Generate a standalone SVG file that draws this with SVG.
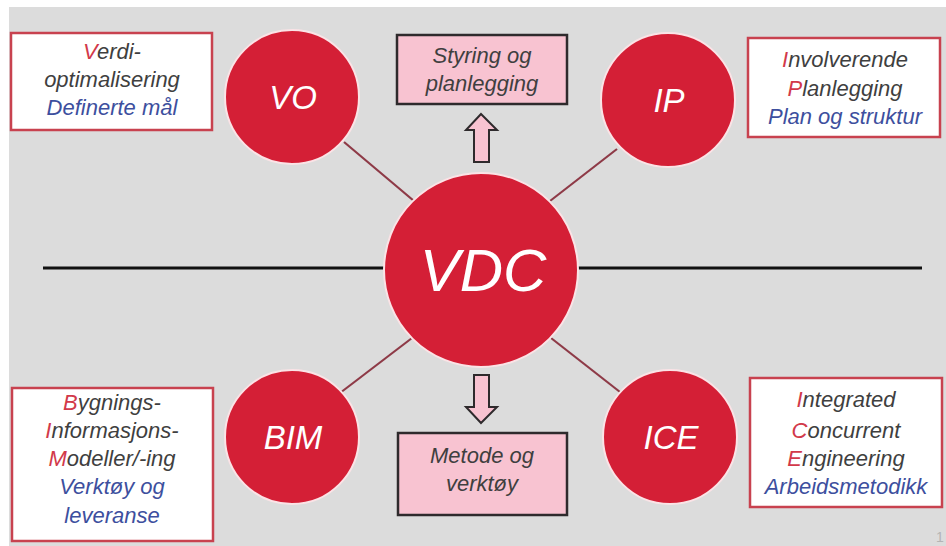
<svg xmlns="http://www.w3.org/2000/svg" width="946" height="546" viewBox="0 0 946 546">
  <defs>
    <style>
      .circle { fill: #d41f36; stroke: #fbe3e6; stroke-width: 2; }
      .ctext { font-family: "Liberation Sans", Arial, sans-serif; font-style: italic; fill: #ffffff; text-anchor: middle; }
      .infobox { fill: #ffffff; stroke: #c8424f; stroke-width: 2.5; }
      .pinkbox { fill: #f8c3d1; stroke: #2e2a2c; stroke-width: 2.5; }
      .btext { font-family: "Liberation Sans", Arial, sans-serif; font-style: italic; font-size: 22px; fill: #3f3f3f; text-anchor: middle; }
      .red { fill: #d2394a; }
      .blue { fill: #3d4f9e; }
      .link { stroke: #8e3a47; stroke-width: 2.2; fill: none; }
      .axis { stroke: #111111; stroke-width: 3; fill: none; }
      .arrow { fill: #f8c3d1; stroke: #2e2a2c; stroke-width: 2; stroke-linejoin: miter; }
    </style>
  </defs>

  <!-- canvas -->
  <rect x="0" y="0" width="946" height="546" fill="#ffffff"/>
  <rect x="9" y="7" width="937" height="539" fill="#dcdcdc"/>

  <!-- connectors -->
  <g id="connectors">
    <line class="axis" x1="43" y1="268" x2="385" y2="268"/>
    <line class="axis" x1="578" y1="268" x2="922" y2="268"/>
    <line class="link" x1="344" y1="142" x2="414" y2="201"/>
    <line class="link" x1="617" y1="149" x2="550" y2="201"/>
    <line class="link" x1="412" y1="338" x2="340" y2="393"/>
    <line class="link" x1="551" y1="338" x2="620" y2="392"/>
    <!-- up arrow -->
    <path class="arrow" d="M481,114 L497,130 L489,130 L489,162 L474,162 L474,130 L466,130 Z"/>
    <!-- down arrow -->
    <path class="arrow" d="M481,423 L497,407 L489,407 L489,375 L474,375 L474,407 L466,407 Z"/>
  </g>

  <!-- VDC hub -->
  <g id="vdc">
    <circle class="circle" cx="481" cy="270" r="97"/>
    <text class="ctext" x="483" y="291" font-size="60">VDC</text>
  </g>

  <g id="vo">
    <circle class="circle" cx="292" cy="97" r="67"/>
    <text class="ctext" x="293" y="109" font-size="33">VO</text>
  </g>

  <g id="ip">
    <circle class="circle" cx="668" cy="100" r="67"/>
    <text class="ctext" x="669" y="112" font-size="33">IP</text>
  </g>

  <g id="bim">
    <circle class="circle" cx="292" cy="437" r="67"/>
    <text class="ctext" x="293" y="449" font-size="33">BIM</text>
  </g>

  <g id="ice">
    <circle class="circle" cx="670" cy="437" r="67"/>
    <text class="ctext" x="671" y="449" font-size="33">ICE</text>
  </g>

  <!-- description boxes -->
  <g id="vo-box">
    <rect class="infobox" x="11" y="33" width="201" height="97"/>
    <text class="btext" x="112" y="59"><tspan class="red">V</tspan>erdi-</text>
    <text class="btext" x="112" y="87">optimalisering</text>
    <text class="btext blue" x="112" y="115">Definerte mål</text>
  </g>

  <g id="ip-box">
    <rect class="infobox" x="748" y="38" width="192" height="99"/>
    <text class="btext" x="845" y="67"><tspan class="red">I</tspan>nvolverende</text>
    <text class="btext" x="845" y="96"><tspan class="red">P</tspan>lanlegging</text>
    <text class="btext blue" x="845" y="124">Plan og struktur</text>
  </g>

  <g id="bim-box">
    <rect class="infobox" x="12" y="388" width="201" height="153"/>
    <text class="btext" x="112" y="410"><tspan class="red">B</tspan>ygnings-</text>
    <text class="btext" x="112" y="438"><tspan class="red">I</tspan>nformasjons-</text>
    <text class="btext" x="112" y="466"><tspan class="red">M</tspan>odeller/-ing</text>
    <text class="btext blue" x="112" y="494">Verktøy og</text>
    <text class="btext blue" x="112" y="523">leveranse</text>
  </g>

  <g id="ice-box">
    <rect class="infobox" x="750" y="378" width="192" height="129"/>
    <text class="btext" x="846" y="407"><tspan class="red">I</tspan>ntegrated</text>
    <text class="btext" x="846" y="438"><tspan class="red">C</tspan>oncurrent</text>
    <text class="btext" x="846" y="466"><tspan class="red">E</tspan>ngineering</text>
    <text class="btext blue" x="846" y="494">Arbeidsmetodikk</text>
  </g>

  <g id="styring">
    <rect class="pinkbox" x="397" y="35" width="170" height="69"/>
    <text class="btext" x="482" y="63">Styring og</text>
    <text class="btext" x="482" y="91">planlegging</text>
  </g>

  <g id="metode">
    <rect class="pinkbox" x="398" y="433" width="169" height="82"/>
    <text class="btext" x="482" y="463">Metode og</text>
    <text class="btext" x="482" y="491">verktøy</text>
  </g>

  <!-- page number -->
  <text x="936" y="542" font-family="Liberation Sans, Arial, sans-serif" font-size="14" fill="#b4b4b4">1</text>
</svg>
